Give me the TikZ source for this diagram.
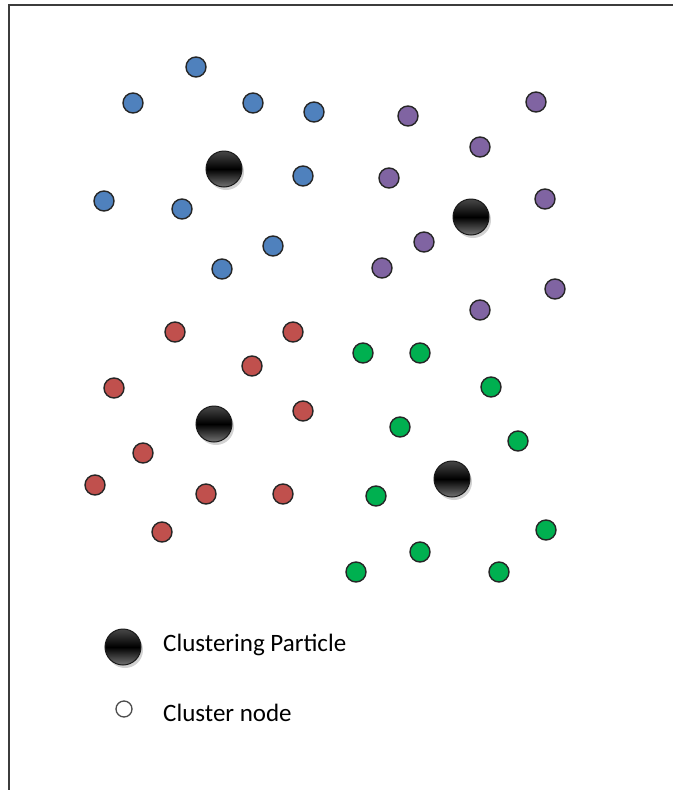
\documentclass[tikz,border=0pt]{standalone}
\usepackage{fontspec}
\setmainfont{Carlito}
\usetikzlibrary{shadows}
\definecolor{cblue}{RGB}{79,129,189}
\definecolor{cpurple}{RGB}{128,100,162}
\definecolor{cred}{RGB}{192,80,77}
\definecolor{cgreen}{RGB}{0,176,80}
\definecolor{frame}{RGB}{60,60,60}
\begin{document}
\begin{tikzpicture}[x=1pt,y=-1pt,
  dot/.style={circle,draw=black!85,line width=1.4pt,minimum size=20pt,inner sep=0pt},
  bdot/.style={dot,fill=cblue},
  pdot/.style={dot,fill=cpurple},
  rdot/.style={dot,fill=cred},
  gdot/.style={dot,fill=cgreen},
  particle/.style={circle,draw=black!90,line width=1pt,minimum size=36pt,inner sep=0pt,
    top color=black!72,bottom color=black!55,middle color=black,
    drop shadow={shadow xshift=2pt,shadow yshift=-3pt,opacity=0.35,fill=black!50}},
  lbl/.style={anchor=west,font=\fontsize{25}{28}\selectfont,inner sep=0pt}]
\useasboundingbox (0,0) rectangle (673,790);
\fill[white] (0,0) rectangle (673,790);
\draw[frame,line width=2.5pt] (9,790) coordinate (fb) -- (9,5) coordinate (fc) -- (673,5) coordinate (fr);
% blue
\foreach \x/\y [count=\i] in {196/67,133/103,253/103,314/112,303/176,104/201,182/209,273/246,222/269}
  \node[bdot] (b\i) at (\x,\y) {};
% purple
\foreach \x/\y [count=\i] in {408/116,536/102,480/147,389/178,545/199,424/242,382/268,555/289,480/310}
  \node[pdot] (p\i) at (\x,\y) {};
% red
\foreach \x/\y [count=\i] in {175/332,293/332,252/366,114/388,303/411,143/453,95/485,206/494,283/494,162/532}
  \node[rdot] (r\i) at (\x,\y) {};
% green
\foreach \x/\y [count=\i] in {363/353,420/353,491/387,400/427,518/441,376/496,546/530,420/552,356/572,499/572}
  \node[gdot] (g\i) at (\x,\y) {};
% clustering particles
\node[particle] (c1) at (224,169) {};
\node[particle] (c2) at (471,217) {};
\node[particle] (c3) at (214,424) {};
\node[particle] (c4) at (452,479) {};
% legend
\node[particle] (lp) at (123,647) {};
\node[lbl] (lpt) at (163,645) {Clustering Particle};
\node[circle,draw=black!70,line width=1.3pt,minimum size=16pt,inner sep=0pt,fill=white] (ln) at (124,709) {};
\node[lbl] (lnt) at (163,713) {Cluster node};
\end{tikzpicture}
\end{document}
